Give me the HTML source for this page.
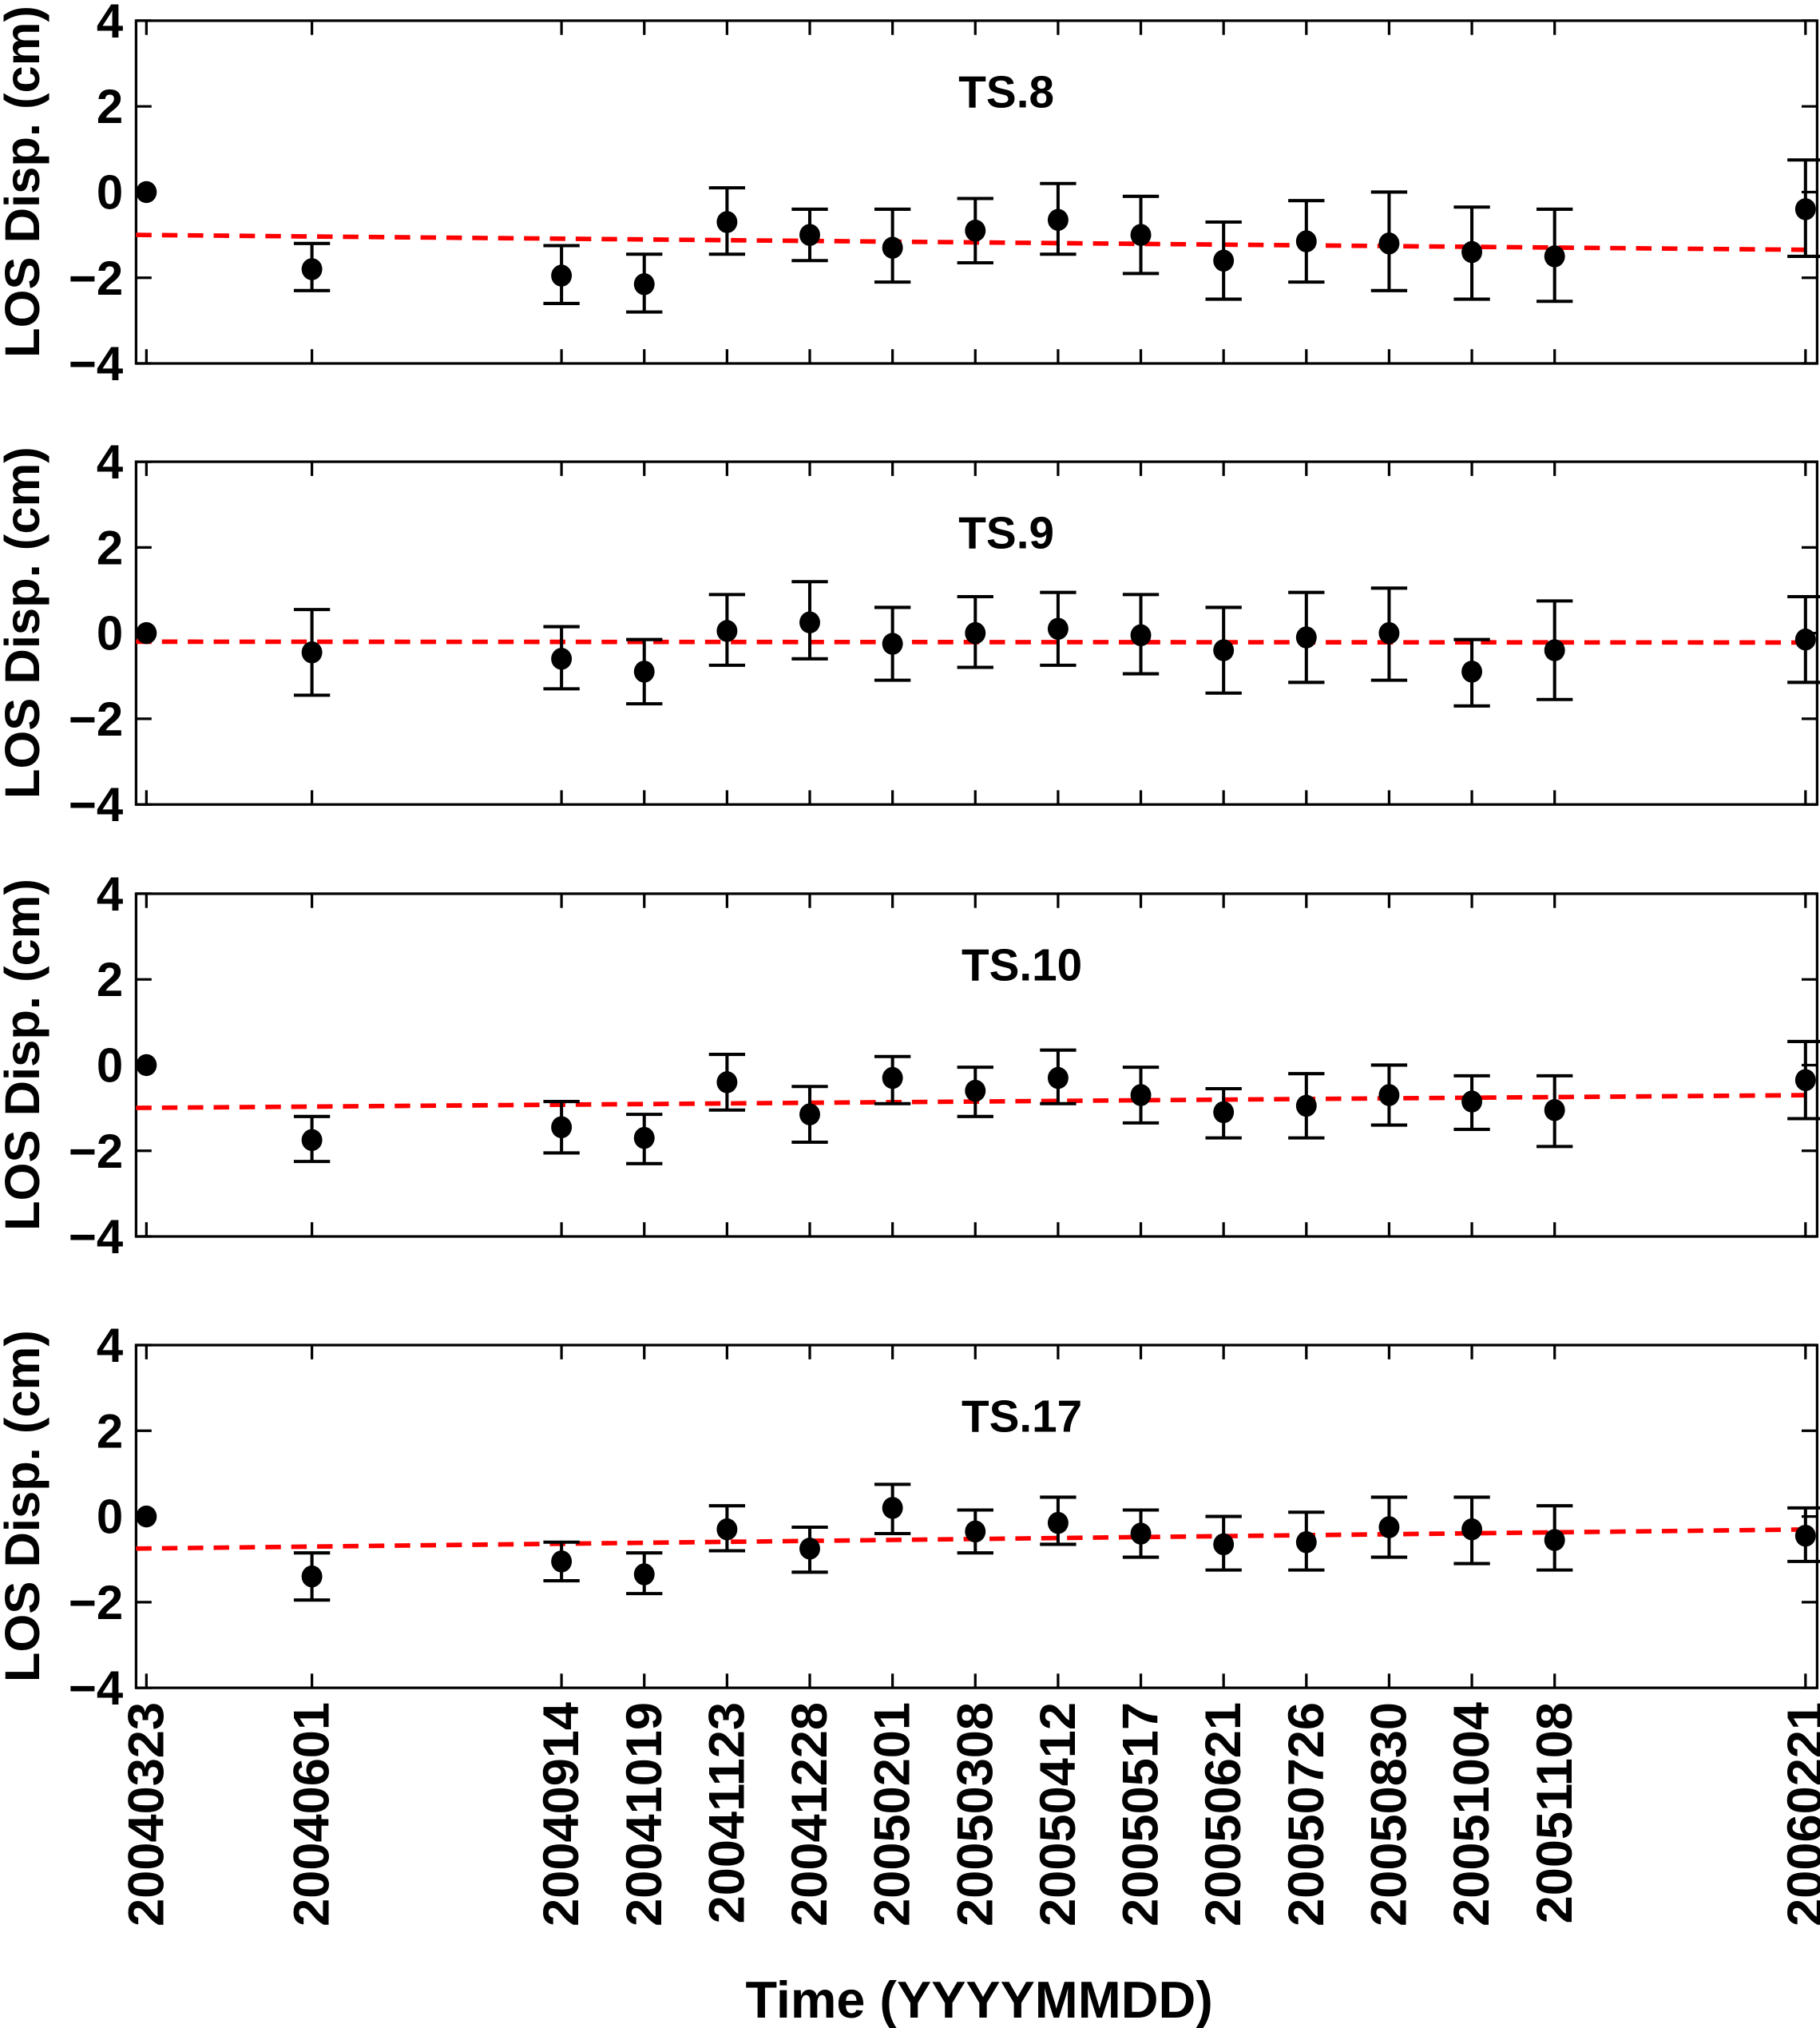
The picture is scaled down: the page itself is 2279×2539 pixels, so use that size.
<!DOCTYPE html>
<html><head><meta charset="utf-8">
<style>html,body{margin:0;padding:0;background:#fff}svg{display:block}</style>
</head><body>
<svg id="s" xmlns="http://www.w3.org/2000/svg" width="2279" height="2539" viewBox="0 0 1407 1568" font-family="'Liberation Sans', Arial, sans-serif" font-weight="bold"></svg>
<script>
const X=[113,241,434,498,562,626,690,754,818,882,946,1010,1074,1138,1202,1396];
const L=["20040323","20040601","20040914","20041019","20041123","20041228","20050201","20050308","20050412","20050517","20050621","20050726","20050830","20051004","20051108","20060221"];
const P=[
{t:16,title:"TS.8",tx:778,tr:[-1.0,-1.35],d:[[0],[-1.8,-1.2,-2.3],[-1.95,-1.25,-2.6],[-2.15,-1.45,-2.8],[-0.7,0.1,-1.45],[-1.0,-0.4,-1.6],[-1.3,-0.4,-2.1],[-0.9,-0.15,-1.65],[-0.65,0.2,-1.45],[-1.0,-0.1,-1.9],[-1.6,-0.7,-2.5],[-1.15,-0.2,-2.1],[-1.2,0,-2.3],[-1.4,-0.35,-2.5],[-1.5,-0.4,-2.55],[-0.4,0.75,-1.5]]},
{t:357,title:"TS.9",tx:778,tr:[-0.2,-0.22],d:[[0],[-0.45,0.55,-1.45],[-0.6,0.15,-1.3],[-0.9,-0.15,-1.65],[0.05,0.9,-0.75],[0.25,1.2,-0.6],[-0.25,0.6,-1.1],[0,0.85,-0.8],[0.1,0.95,-0.75],[-0.05,0.9,-0.95],[-0.4,0.6,-1.4],[-0.1,0.95,-1.15],[0,1.05,-1.1],[-0.9,-0.15,-1.7],[-0.4,0.75,-1.55],[-0.15,0.85,-1.15]]},
{t:691,title:"TS.10",tx:790,tr:[-1.0,-0.7],d:[[0],[-1.75,-1.2,-2.25],[-1.45,-0.85,-2.05],[-1.7,-1.15,-2.3],[-0.4,0.25,-1.05],[-1.15,-0.5,-1.8],[-0.3,0.2,-0.9],[-0.6,-0.05,-1.2],[-0.3,0.35,-0.9],[-0.7,-0.05,-1.35],[-1.1,-0.55,-1.7],[-0.95,-0.2,-1.7],[-0.7,0,-1.4],[-0.85,-0.25,-1.5],[-1.05,-0.25,-1.9],[-0.35,0.55,-1.25]]},
{t:1040,title:"TS.17",tx:790,tr:[-0.75,-0.3],d:[[0],[-1.4,-0.85,-1.95],[-1.05,-0.6,-1.5],[-1.35,-0.85,-1.8],[-0.3,0.25,-0.8],[-0.75,-0.25,-1.3],[0.2,0.75,-0.4],[-0.35,0.15,-0.85],[-0.15,0.45,-0.65],[-0.4,0.15,-0.95],[-0.65,0,-1.25],[-0.6,0.1,-1.25],[-0.25,0.45,-0.95],[-0.3,0.45,-1.1],[-0.55,0.25,-1.25],[-0.45,0.2,-1.05]]}
];
const xl=105,xr=1405,H=265;
let s='';
for(const p of P){
 const yv=v=>p.t+(4-v)*H/8;
 s+=`<rect x="${xl}" y="${p.t}" width="${xr-xl}" height="${H}" fill="none" stroke="#000" stroke-width="2"/>`;
 for(const x of X){s+=`<line x1="${x}" y1="${p.t}" x2="${x}" y2="${p.t+11}" stroke="#000" stroke-width="2"/><line x1="${x}" y1="${p.t+H}" x2="${x}" y2="${p.t+H-11}" stroke="#000" stroke-width="2"/>`;}
 for(let v=-4;v<=4;v+=2){const y=yv(v);
  s+=`<line x1="${xl}" y1="${y}" x2="${xl+12}" y2="${y}" stroke="#000" stroke-width="2"/><line x1="${xr}" y1="${y}" x2="${xr-12}" y2="${y}" stroke="#000" stroke-width="2"/>`;
  s+=`<text x="95" y="${y+13}" font-size="37" text-anchor="end">${v<0?'\u2212'+(-v):v}</text>`;}
 s+=`<text transform="translate(30,${p.t+H/2-8}) rotate(-90)" font-size="38" text-anchor="middle">LOS Disp. (cm)</text>`;
 s+=`<text x="${p.tx}" y="${p.t+67}" font-size="35" text-anchor="middle">${p.title}</text>`;
 s+=`<line x1="${xl}" y1="${yv(p.tr[0])}" x2="${xr}" y2="${yv(p.tr[1])}" stroke="#ff0000" stroke-width="3.5" stroke-dasharray="12,8"/>`;
 p.d.forEach((d,i)=>{const x=X[i];
  if(d.length>1){const a=yv(d[1]),b=yv(d[2]);
   s+=`<line x1="${x}" y1="${a}" x2="${x}" y2="${b}" stroke="#000" stroke-width="2.5"/><line x1="${x-14}" y1="${a}" x2="${x+14}" y2="${a}" stroke="#000" stroke-width="2.5"/><line x1="${x-14}" y1="${b}" x2="${x+14}" y2="${b}" stroke="#000" stroke-width="2.5"/>`;}
  s+=`<ellipse cx="${x}" cy="${yv(d[0])}" rx="8" ry="8.5" fill="#000"/>`;});
}
X.forEach((x,i)=>{s+=`<text transform="translate(${x+13},1316) rotate(-90)" font-size="39" text-anchor="end">${L[i]}</text>`;});
s+=`<text x="757" y="1560" font-size="40" text-anchor="middle">Time (YYYYMMDD)</text>`;
document.getElementById('s').innerHTML=s;
</script>
</body></html>
